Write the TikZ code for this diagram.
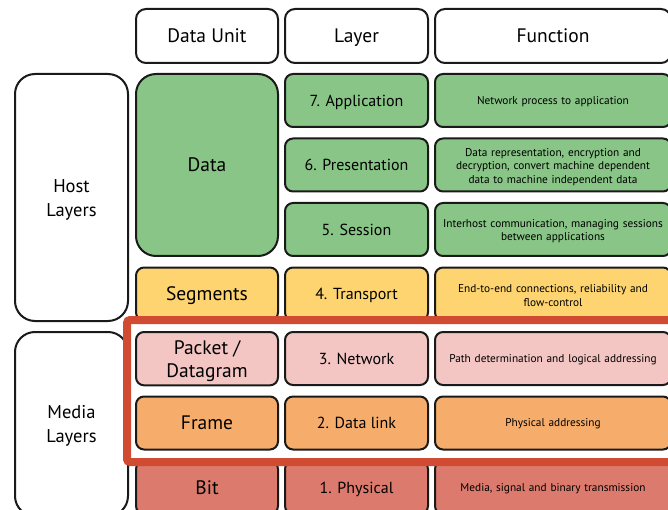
\documentclass[tikz,border=0pt]{standalone}
\usepackage{fontspec}
\setmainfont{PT Sans}
\definecolor{hostgreen}{HTML}{88C586}
\definecolor{transyellow}{HTML}{FDD46F}
\definecolor{netpink}{HTML}{F3C5C3}
\definecolor{linkorange}{HTML}{F6AD6B}
\definecolor{physred}{HTML}{DC7B6D}
\definecolor{framered}{HTML}{D04B32}
\definecolor{edge}{HTML}{1A1A1A}
% raises the first line's height so two-line labels sit slightly lower
\newcommand\firstline{\rule{0pt}{1.05em}}
\tikzset{
  cell/.style={draw=edge, line width=2pt, rounded corners=8pt, inner sep=2pt,
    anchor=north west, align=center,
    execute at begin node={\rule[-0.3em]{0pt}{1.3em}}},
  multiline/.style={execute at begin node={}},
  head/.style={cell, fill=white, rounded corners=10pt, minimum height=54pt, font=\fontsize{19.5}{22}\selectfont},
  unit/.style={cell, minimum width=142pt, minimum height=53pt, font=\fontsize{19.5}{22}\selectfont},
  layer/.style={cell, minimum width=143pt, minimum height=53pt, font=\fontsize{16}{19}\selectfont},
  func/.style={cell, minimum width=236pt, minimum height=53pt, text width=230pt,
    font=\fontsize{11.3}{13.5}\selectfont},
  group/.style={cell, multiline, fill=white, rounded corners=20pt, minimum width=113pt,
    font=\fontsize{18.5}{24}\selectfont},
}
\begin{document}
\begin{tikzpicture}[x=1pt, y=-1pt]
\useasboundingbox (0,0) rectangle (668,510);

% column headers
\node[head, minimum width=142pt] (hunit) at (135,8) {Data Unit};
\node[head, minimum width=143pt] (hlayer) at (284,8) {Layer};
\node[head, minimum width=236pt] (hfunc) at (434,8) {Function};

% host / media groupings
\node[group, minimum height=247pt] (host) at (14,73) {\firstline Host\\Layers};
\node[group, minimum height=184pt] (media) at (14,331) {\firstline Media\\Layers};

% data units
\node[unit, fill=hostgreen, rounded corners=20pt, minimum height=182pt] (data) at (135,73) {Data};
\node[unit, fill=transyellow] (segments) at (135,266.5) {Segments};
\node[unit, multiline, fill=netpink, font=\fontsize{19.5}{23}\selectfont] (packet) at (135,331) {\firstline Packet /\\Datagram};
\node[unit, fill=linkorange] (frame) at (135,395.5) {Frame};
\node[unit, fill=physred] (bit) at (135,460) {Bit};

% layers
\node[layer, fill=hostgreen] (l7) at (284,73) {7. Application};
\node[layer, fill=hostgreen] (l6) at (284,137.5) {6. Presentation};
\node[layer, fill=hostgreen] (l5) at (284,202) {5. Session};
\node[layer, fill=transyellow] (l4) at (284,266.5) {4. Transport};
\node[layer, fill=netpink] (l3) at (284,331) {3. Network};
\node[layer, fill=linkorange] (l2) at (284,395.5) {2. Data link};
\node[layer, fill=physred] (l1) at (284,460) {1. Physical};

% functions
\node[func, fill=hostgreen] (f7) at (434,73) {Network process to application};
\node[func, multiline, fill=hostgreen] (f6) at (434,137.5) {Data representation, encryption and\\decryption, convert machine dependent\\data to machine independent data};
\node[func, multiline, fill=hostgreen] (f5) at (434,202) {Interhost communication, managing sessions\\between applications};
\node[func, multiline, fill=transyellow] (f4) at (434,266.5) {End-to-end connections, reliability and\\flow-control};
\node[func, fill=netpink] (f3) at (434,331) {Path determination and logical addressing};
\node[func, fill=linkorange] (f2) at (434,395.5) {Physical addressing};
\node[func, fill=physred] (f1) at (434,460) {Media, signal and binary transmission};

% highlight around network and data link layers
\draw[framered, line width=8pt, rounded corners=3pt] (680,320) -- (127,320) -- (127,462) -- (680,462);
\end{tikzpicture}
\end{document}
